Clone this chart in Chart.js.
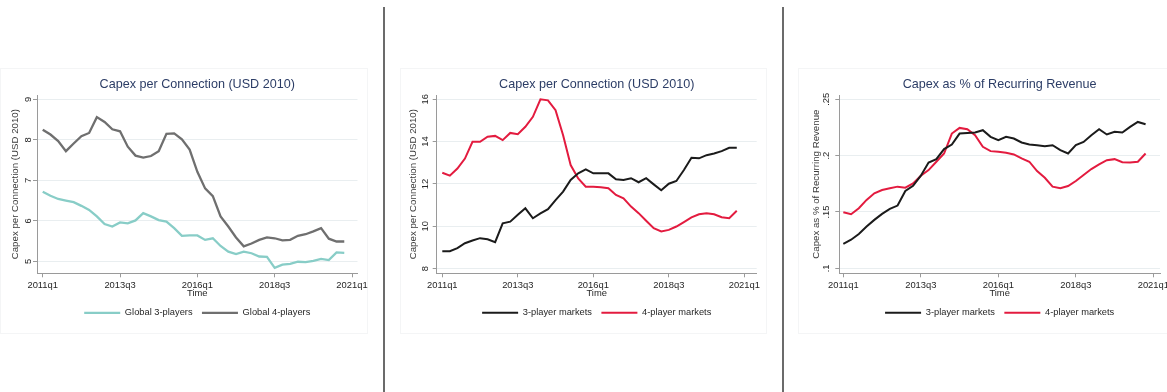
<!DOCTYPE html>
<html lang="en">
<head>
<meta charset="UTF-8">
<title>Capex per Connection</title>
<script src="https://cdn.jsdelivr.net/npm/chart.js"></script>
<style>
    html, body {
        margin: 0;
        padding: 0;
        overflow: hidden;
        background: #ffffff;
    }
    body {
        position: relative;
        width: 1167px;
        height: 392px;
    }
    canvas {
        position: absolute;
        top: 60px;
    }
    .divider {
        position: absolute;
        top: 7px;
        width: 2px;
        height: 385px;
        background: #6b6b6b;
    }
    .region {
        position: absolute;
        top: 68px;
        height: 266px;
        border: 1px solid #f4f5f6;
        box-sizing: border-box;
    }
</style>
</head>
<body>
    <div class="region" style="left:0; width:368px;"></div>
    <div class="region" style="left:400px; width:367px;"></div>
    <div class="region" style="left:798px; width:380px;"></div>
    <div class="divider" style="left:383px;"></div>
    <div class="divider" style="left:782px;"></div>

    <canvas id="chart1" width="380" height="280" style="left:0;"></canvas>
    <canvas id="chart2" width="390" height="280" style="left:390px;"></canvas>
    <canvas id="chart3" width="400" height="280" style="left:787px;"></canvas>

<script>
// quarters on the x axis (index 0 = 2011q1)
const quarters = [
    '2011q1', '2011q2', '2011q3', '2011q4', '2012q1', '2012q2', '2012q3', '2012q4',
    '2013q1', '2013q2', '2013q3', '2013q4', '2014q1', '2014q2', '2014q3', '2014q4',
    '2015q1', '2015q2', '2015q3', '2015q4', '2016q1', '2016q2', '2016q3', '2016q4',
    '2017q1', '2017q2', '2017q3', '2017q4', '2018q1', '2018q2', '2018q3', '2018q4',
    '2019q1', '2019q2', '2019q3', '2019q4', '2020q1', '2020q2', '2020q3', '2020q4'
];
const xTickValues = [0, 10, 20, 30, 40];
const xTickLabels = ['2011q1', '2013q3', '2016q1', '2018q3', '2021q1'];

// left panel - capex per connection, global
const global3 = [6.72, 6.62, 6.54, 6.50, 6.46, 6.37, 6.27, 6.11, 5.92, 5.86,
                 5.96, 5.94, 6.01, 6.19, 6.11, 6.02, 5.98, 5.82, 5.63, 5.64,
                 5.64, 5.53, 5.57, 5.38, 5.24, 5.18, 5.24, 5.20, 5.12, 5.11,
                 4.84, 4.92, 4.94, 4.99, 4.98, 5.01, 5.06, 5.03, 5.22, 5.21];
const global4 = [8.25, 8.13, 7.97, 7.72, 7.91, 8.09, 8.17, 8.56, 8.44, 8.26,
                 8.21, 7.83, 7.61, 7.56, 7.60, 7.72, 8.15, 8.16, 8.01, 7.76,
                 7.21, 6.80, 6.61, 6.11, 5.86, 5.59, 5.37, 5.44, 5.53, 5.59,
                 5.57, 5.52, 5.53, 5.63, 5.67, 5.74, 5.82, 5.56, 5.49, 5.49];
const yTicks1 = [5, 6, 7, 8, 9];
const yLabels1 = ['5', '6', '7', '8', '9'];

// middle panel - capex per connection by market type
const conn3 = [8.82, 8.82, 8.97, 9.20, 9.33, 9.44, 9.39, 9.25, 10.14, 10.22,
               10.54, 10.85, 10.38, 10.61, 10.81, 11.24, 11.64, 12.19, 12.50, 12.69,
               12.50, 12.51, 12.50, 12.22, 12.19, 12.27, 12.08, 12.27, 11.98, 11.70,
               12.01, 12.14, 12.66, 13.24, 13.21, 13.36, 13.44, 13.55, 13.71, 13.71];
const conn4 = [12.53, 12.39, 12.73, 13.20, 13.99, 13.99, 14.23, 14.27, 14.07, 14.41,
               14.35, 14.70, 15.17, 16.00, 15.95, 15.48, 14.30, 12.89, 12.26, 11.87,
               11.87, 11.84, 11.80, 11.48, 11.32, 10.93, 10.62, 10.26, 9.91, 9.76,
               9.83, 9.99, 10.20, 10.42, 10.57, 10.62, 10.57, 10.43, 10.38, 10.73];
const yTicks2 = [8, 10, 12, 14, 16];
const yLabels2 = ['8', '10', '12', '14', '16'];

// right panel - capex as share of recurring revenue
const rev3 = [0.1218, 0.1254, 0.1304, 0.1371, 0.1430, 0.1483, 0.1527, 0.1557, 0.1686, 0.1733,
              0.1822, 0.1939, 0.1969, 0.2058, 0.2099, 0.2196, 0.2202, 0.2205, 0.2226, 0.2167,
              0.2137, 0.2167, 0.2152, 0.2117, 0.2099, 0.2093, 0.2084, 0.2093, 0.2049, 0.2019,
              0.2093, 0.2122, 0.2181, 0.2235, 0.2188, 0.2211, 0.2205, 0.2255, 0.2299, 0.2279];
const rev4 = [0.1498, 0.1480, 0.1533, 0.1607, 0.1666, 0.1695, 0.1710, 0.1725, 0.1716, 0.1754,
              0.1822, 0.1872, 0.1946, 0.2019, 0.2196, 0.2246, 0.2234, 0.2181, 0.2078, 0.2040,
              0.2034, 0.2025, 0.2011, 0.1975, 0.1946, 0.1863, 0.1804, 0.1725, 0.1710, 0.1730,
              0.1775, 0.1828, 0.1881, 0.1922, 0.1960, 0.1969, 0.1941, 0.1940, 0.1946, 0.2019];
const yTicks3 = [0.1, 0.15, 0.2, 0.25];
const yLabels3 = ['.1', '.15', '.2', '.25'];

Chart.defaults.font.family = '"Liberation Sans", Arial, sans-serif';
Chart.defaults.color = '#262626';

const axisGray = '#9a9a9a';
const textColor = '#262626';

function makeChart(id, p) {
    const ctx = document.getElementById(id).getContext('2d');
    return new Chart(ctx, {
        type: 'line',
        data: {
            datasets: p.series.map(s => ({
                label: s.label,
                data: quarters.map((q, i) => ({ x: i, y: s.values[i] })),
                borderColor: s.color,
                backgroundColor: s.color,
                borderWidth: p.lineWidth,
                pointRadius: 0,
                tension: 0,
                fill: false
            }))
        },
        options: {
            responsive: false,
            animation: false,
            devicePixelRatio: 1,
            layout: { padding: { left: 0, right: p.padRight, top: 0, bottom: 12.5 } },
            plugins: {
                title: {
                    display: true,
                    text: p.title,
                    fullSize: false,
                    color: '#2c3d66',
                    font: { size: 12.6, weight: 'normal' },
                    padding: { top: 17.4, bottom: 2.5 }
                },
                legend: {
                    position: 'bottom',
                    fullSize: false,
                    labels: {
                        usePointStyle: true,
                        pointStyle: 'line',
                        pointStyleWidth: 36,
                        padding: 9.4,
                        color: textColor,
                        font: { size: 9.3 }
                    }
                },
                tooltip: { enabled: false }
            },
            scales: {
                x: {
                    type: 'linear',
                    min: p.xMin,
                    max: p.xMax,
                    afterBuildTicks: s => { s.ticks = xTickValues.map(v => ({ value: v })); },
                    afterFit: s => { s.height = 25.5; },
                    ticks: {
                        padding: 2.2,
                        maxRotation: 0,
                        color: textColor,
                        font: { size: 9.4 },
                        callback: (v, i) => xTickLabels[i]
                    },
                    grid: { drawOnChartArea: false, tickLength: 4, color: axisGray },
                    border: { color: axisGray },
                    title: {
                        display: true,
                        text: 'Time',
                        color: textColor,
                        font: { size: 9.4 },
                        padding: { top: 0, bottom: 0 }
                    }
                },
                y: {
                    min: p.yMin,
                    max: p.yMax,
                    afterBuildTicks: s => { s.ticks = p.yTicks.map(v => ({ value: v })); },
                    afterFit: s => { s.width = p.yWidth; },
                    ticks: {
                        minRotation: 90,
                        maxRotation: 90,
                        crossAlign: 'center',
                        padding: 2.2,
                        color: textColor,
                        font: { size: 9.4 },
                        callback: (v, i) => p.yLabels[i]
                    },
                    grid: { color: '#e9eef0', tickColor: axisGray, tickLength: 4 },
                    border: { color: axisGray },
                    title: {
                        display: true,
                        text: p.yTitle,
                        color: '#3a3a3a',
                        font: { size: 9.7 },
                        padding: { top: p.yTitlePad, bottom: 0 }
                    }
                }
            }
        }
    });
}

makeChart('chart1', {
    title: 'Capex per Connection (USD 2010)',
    yTitle: 'Capex per Connection (USD 2010)',
    series: [
        { label: 'Global 3-players', values: global3, color: '#88cdc7' },
        { label: 'Global 4-players', values: global4, color: '#6f6f6f' }
    ],
    lineWidth: 2.3,
    xMin: -0.74, xMax: 40.71,
    yMin: 4.705, yMax: 9.106,
    yTicks: yTicks1, yLabels: yLabels1,
    yWidth: 37, yTitlePad: 9.2, padRight: 22.5
});

makeChart('chart2', {
    title: 'Capex per Connection (USD 2010)',
    yTitle: 'Capex per Connection (USD 2010)',
    series: [
        { label: '3-player markets', values: conn3, color: '#1b1b1b' },
        { label: '4-player markets', values: conn4, color: '#e31b3f' }
    ],
    lineWidth: 2,
    xMin: -0.74, xMax: 41.64,
    yMin: 7.78, yMax: 16.2,
    yTicks: yTicks2, yLabels: yLabels2,
    yWidth: 46.7, yTitlePad: 17.2, padRight: 23.3
});

makeChart('chart3', {
    title: 'Capex as % of Recurring Revenue',
    yTitle: 'Capex as % of Recurring Revenue',
    series: [
        { label: '3-player markets', values: rev3, color: '#1b1b1b' },
        { label: '4-player markets', values: rev4, color: '#e31b3f' }
    ],
    lineWidth: 2,
    xMin: -0.52, xMax: 40.86,
    yMin: 0.0956, yMax: 0.2538,
    yTicks: yTicks3, yLabels: yLabels3,
    yWidth: 52.3, yTitlePad: 23.9, padRight: 27
});
</script>
</body>
</html>
